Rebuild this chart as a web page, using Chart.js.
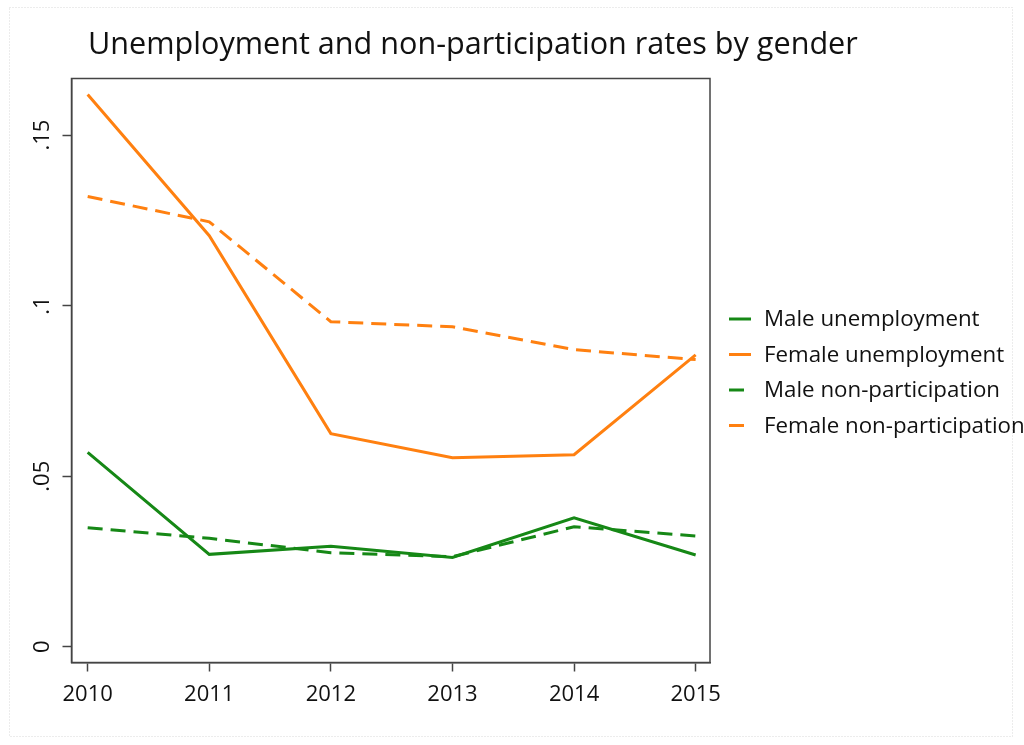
<!DOCTYPE html>
<html lang="en">
  <head>
    <meta charset="UTF-8" />
    <title>Unemployment and non-participation rates by gender</title>
    <style>
      body { margin: 0; background: #fff; }
      canvas { display: block; }
    </style>
    <script src="https://cdn.jsdelivr.net/npm/chart.js@4"></script>
  </head>
  <body>
    <canvas id="rateChart" width="1024" height="745"></canvas>

    <script>
      // values
      var years = [2010, 2011, 2012, 2013, 2014, 2015];
      var maleUnemp = [0.057, 0.0271, 0.0295, 0.0262, 0.0378, 0.0269];
      var femaleUnemp = [0.1619, 0.1205, 0.0625, 0.0554, 0.0563, 0.0856];
      var maleNonPart = [0.0349, 0.0318, 0.0276, 0.0264, 0.0352, 0.0325];
      var femaleNonPart = [0.132, 0.1246, 0.0953, 0.0938, 0.0871, 0.0842];
      var yTickValues = [0, 0.05, 0.1, 0.15];
      var yTickLabels = ["0", ".05", ".1", ".15"];
      var seriesNames = [
        "Male unemployment",
        "Female unemployment",
        "Male non-participation",
        "Female non-participation",
      ];
      var titleText = "Unemployment and non-participation rates by gender";

      var green = "#168816";
      var orange = "#ff8010";
      var font = "'Open Sans', sans-serif";

      function points(vals) {
        return years.map(function (y, i) {
          return { x: y, y: vals[i] };
        });
      }

      var data = {
        datasets: [
          { label: seriesNames[0], data: points(maleUnemp), borderColor: green },
          { label: seriesNames[1], data: points(femaleUnemp), borderColor: orange },
          { label: seriesNames[2], data: points(maleNonPart), borderColor: green, borderDash: [15, 8] },
          { label: seriesNames[3], data: points(femaleNonPart), borderColor: orange, borderDash: [15, 8] },
        ],
      };

      // frame, title, rotated y labels and legend
      var decor = {
        id: "decor",
        beforeDraw: function (chart) {
          var c = chart.ctx;
          c.save();
          c.fillStyle = "#fff";
          c.fillRect(0, 0, chart.width, chart.height);
          c.strokeStyle = "#d8d8d8";
          c.lineWidth = 1;
          c.setLineDash([1, 2]);
          c.strokeRect(9.5, 7.5, 1003, 729);
          c.restore();
        },
        afterDraw: function (chart) {
          var c = chart.ctx;
          var a = chart.chartArea;
          c.save();
          // plot box
          c.strokeStyle = "#444";
          c.lineWidth = 1.5;
          c.strokeRect(a.left, a.top, a.right - a.left, a.bottom - a.top);

          // title
          c.fillStyle = "#111";
          c.font = "30.6px " + font;
          c.textBaseline = "alphabetic";
          c.textAlign = "left";
          c.fillText(titleText, 88, 54);

          // y tick labels, rotated
          var ys = chart.scales.y;
          c.font = "22px " + font;
          c.textAlign = "center";
          c.textBaseline = "middle";
          yTickValues.forEach(function (v, i) {
            var py = ys.getPixelForValue(v);
            c.save();
            c.translate(43, py);
            c.rotate(-Math.PI / 2);
            c.fillText(yTickLabels[i], 0, 0);
            c.restore();
          });

          // legend
          c.textAlign = "left";
          c.textBaseline = "middle";
          c.font = "22.3px " + font;
          chart.data.datasets.forEach(function (ds, i) {
            var ly = 319 + i * 35.5;
            c.strokeStyle = ds.borderColor;
            c.lineWidth = 3;
            c.setLineDash([]);
            c.beginPath();
            c.moveTo(729, ly);
            c.lineTo(ds.borderDash ? 744 : 751, ly);
            c.stroke();
            c.fillStyle = "#111";
            c.fillText(ds.label, 764, ly + 1);
          });
          c.restore();
        },
      };

      var ctx = document.getElementById("rateChart").getContext("2d");
      var lineChart = new Chart(ctx, {
        type: "line",
        data: data,
        options: {
          responsive: false,
          animation: false,
          devicePixelRatio: 1,
          layout: { padding: { left: 0, top: 78.5, right: 314, bottom: 0 } },
          elements: {
            line: { borderWidth: 3, tension: 0, fill: false },
            point: { radius: 0 },
          },
          plugins: {
            legend: { display: false },
            title: { display: false },
            tooltip: { enabled: false },
          },
          scales: {
            x: {
              type: "linear",
              min: 2009.867,
              max: 2015.118,
              afterBuildTicks: function (scale) {
                scale.ticks = years.map(function (y) {
                  return { value: y };
                });
              },
              afterFit: function (scale) {
                scale.height = 82.5;
              },
              grid: {
                drawOnChartArea: false,
                drawTicks: true,
                tickLength: 9,
                tickWidth: 1.5,
                tickColor: "#444",
              },
              border: { display: true, color: "#444", width: 1.5 },
              ticks: {
                color: "#111",
                font: { family: font, size: 22 },
                padding: 10,
                maxRotation: 0,
                callback: function (v) {
                  return String(v);
                },
              },
            },
            y: {
              min: -0.0046,
              max: 0.1666,
              afterBuildTicks: function (scale) {
                scale.ticks = yTickValues.map(function (v) {
                  return { value: v };
                });
              },
              afterFit: function (scale) {
                scale.width = 71.5;
              },
              grid: {
                drawOnChartArea: false,
                drawTicks: true,
                tickLength: 9,
                tickWidth: 1.5,
                tickColor: "#444",
              },
              border: { display: true, color: "#444", width: 1.5 },
              ticks: { display: false },
            },
          },
        },
        plugins: [decor],
      });
    </script>
  </body>
</html>
